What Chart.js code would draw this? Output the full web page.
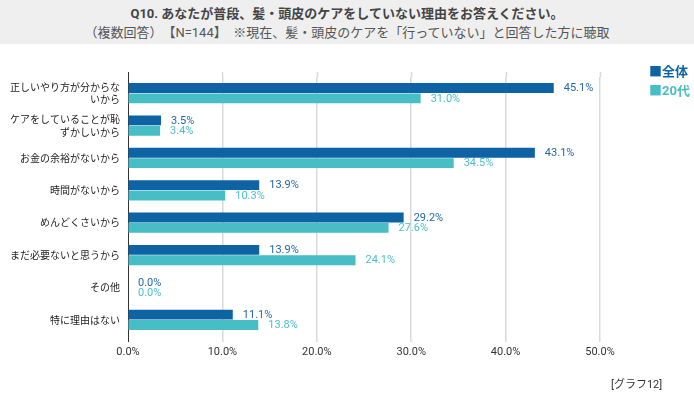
<!DOCTYPE html>
<html><head><meta charset="utf-8">
<script src="https://cdn.jsdelivr.net/npm/chart.js@4"></script>
<style>
html,body{margin:0;padding:0;background:#fff;width:694px;height:398px;overflow:hidden;font-family:Roboto,"Noto Sans CJK JP",sans-serif;}
#hdr{position:absolute;left:0;top:0;width:694px;height:44px;background:#efefef;}
#t1{position:absolute;left:0;width:694px;top:3px;text-align:center;font-size:13px;font-weight:bold;color:#444;}
#t2{position:absolute;left:0;width:694px;top:22px;text-align:center;font-size:13px;color:#555;}
#c{position:absolute;left:0;top:0;}
.lg{position:absolute;left:649px;font-size:13px;font-weight:bold;}
#note{position:absolute;left:611px;top:375px;font-size:11px;color:#333;}
</style></head><body>
<div id="hdr"><div id="t1">Q10. あなたが普段、髪・頭皮のケアをしていない理由をお答えください。</div>
<div id="t2">（複数回答）　【N=144】　※現在、髪・頭皮のケアを「行っていない」と回答した方に聴取</div></div>
<canvas id="c" width="694" height="398"></canvas>
<div class="lg" style="top:61px;color:#0e63a5">■全体</div>
<div class="lg" style="top:80px;color:#47bdc6">■20代</div>
<div id="note">[グラフ12]</div>
<script>
const categories = [
  ["正しいやり方が分からな","いから"],
  ["ケアをしていることが恥","ずかしいから"],
  "お金の余裕がないから",
  "時間がないから",
  "めんどくさいから",
  "まだ必要ないと思うから",
  "その他",
  "特に理由はない"
];
const seriesNames = ["全体","20代"];
const allValues = [45.1, 3.5, 43.1, 13.9, 29.2, 13.9, 0.0, 11.1];
const age20Values = [31.0, 3.4, 34.5, 10.3, 27.6, 24.1, 0.0, 13.8];
const xTicks = [0, 10, 20, 30, 40, 50];

const barColors = ["#0e63a5", "#47bdc6"];
const labelColors = ["#2468a8", "#4bbfcb"];

const valueLabels = {
  id: 'valueLabels',
  afterDatasetsDraw(chart) {
    const ctx = chart.ctx;
    ctx.save();
    ctx.font = '11px Roboto, "Noto Sans CJK JP", sans-serif';
    ctx.textBaseline = 'middle';
    ctx.textAlign = 'left';
    chart.data.datasets.forEach((ds, i) => {
      const meta = chart.getDatasetMeta(i);
      meta.data.forEach((bar, j) => {
        ctx.fillStyle = labelColors[i];
        ctx.fillText(ds.data[j].toFixed(1) + '%', bar.x + 10, bar.y + 0.5);
      });
    });
    ctx.restore();
  }
};
const gridExt = {
  id: 'gridExt',
  beforeDatasetsDraw(chart) {
    const ctx = chart.ctx, xs = chart.scales.x, top = chart.chartArea.top;
    ctx.save();
    xs.ticks.forEach(t => {
      const px = Math.round(xs.getPixelForValue(t.value)) + 0.5;
      ctx.strokeStyle = t.value === 0 ? '#333' : '#d9d9d9';
      ctx.lineWidth = t.value === 0 ? 1 : 1.5;
      ctx.beginPath(); ctx.moveTo(px, top - 5); ctx.lineTo(px, top); ctx.stroke();
    });
    ctx.restore();
  }
};

new Chart(document.getElementById('c'), {
  type: 'bar',
  data: {
    labels: categories,
    datasets: [
      { label: seriesNames[0], data: allValues, backgroundColor: barColors[0], borderWidth: 0 },
      { label: seriesNames[1], data: age20Values, backgroundColor: barColors[1], borderWidth: 0 }
    ]
  },
  options: {
    indexAxis: 'y',
    responsive: false,
    animation: false,
    layout: { padding: { top: 77, right: 94, left: 0, bottom: 0 } },
    plugins: { legend: { display: false }, tooltip: { enabled: false } },
    datasets: { bar: { categoryPercentage: 0.64, barPercentage: 0.96 } },
    scales: {
      x: {
        min: 0, max: 50,
        afterBuildTicks(s) { s.ticks = xTicks.map(v => ({ value: v })); },
        afterFit(s) { s.height = 62; },
        grid: {
          color: ctx => ctx.tick && ctx.tick.value === 0 ? '#333' : '#d9d9d9',
          lineWidth: ctx => ctx.tick && ctx.tick.value === 0 ? 1 : 1.5,
          drawTicks: true, tickLength: 6
        },
        border: { display: false },
        ticks: {
          padding: 4, color: '#333',
          font: { size: 11, family: 'Roboto, "Noto Sans CJK JP", sans-serif' },
          callback: v => v.toFixed(1) + '%'
        }
      },
      y: {
        afterFit(s) { s.width = 128; },
        grid: { display: false, drawTicks: false },
        border: { display: false },
        ticks: {
          padding: 8, color: '#222',
          font: { size: 10, family: '"Noto Sans CJK JP", sans-serif', lineHeight: 1.25 }
        }
      }
    }
  },
  plugins: [valueLabels, gridExt]
});
</script>
</body></html>
